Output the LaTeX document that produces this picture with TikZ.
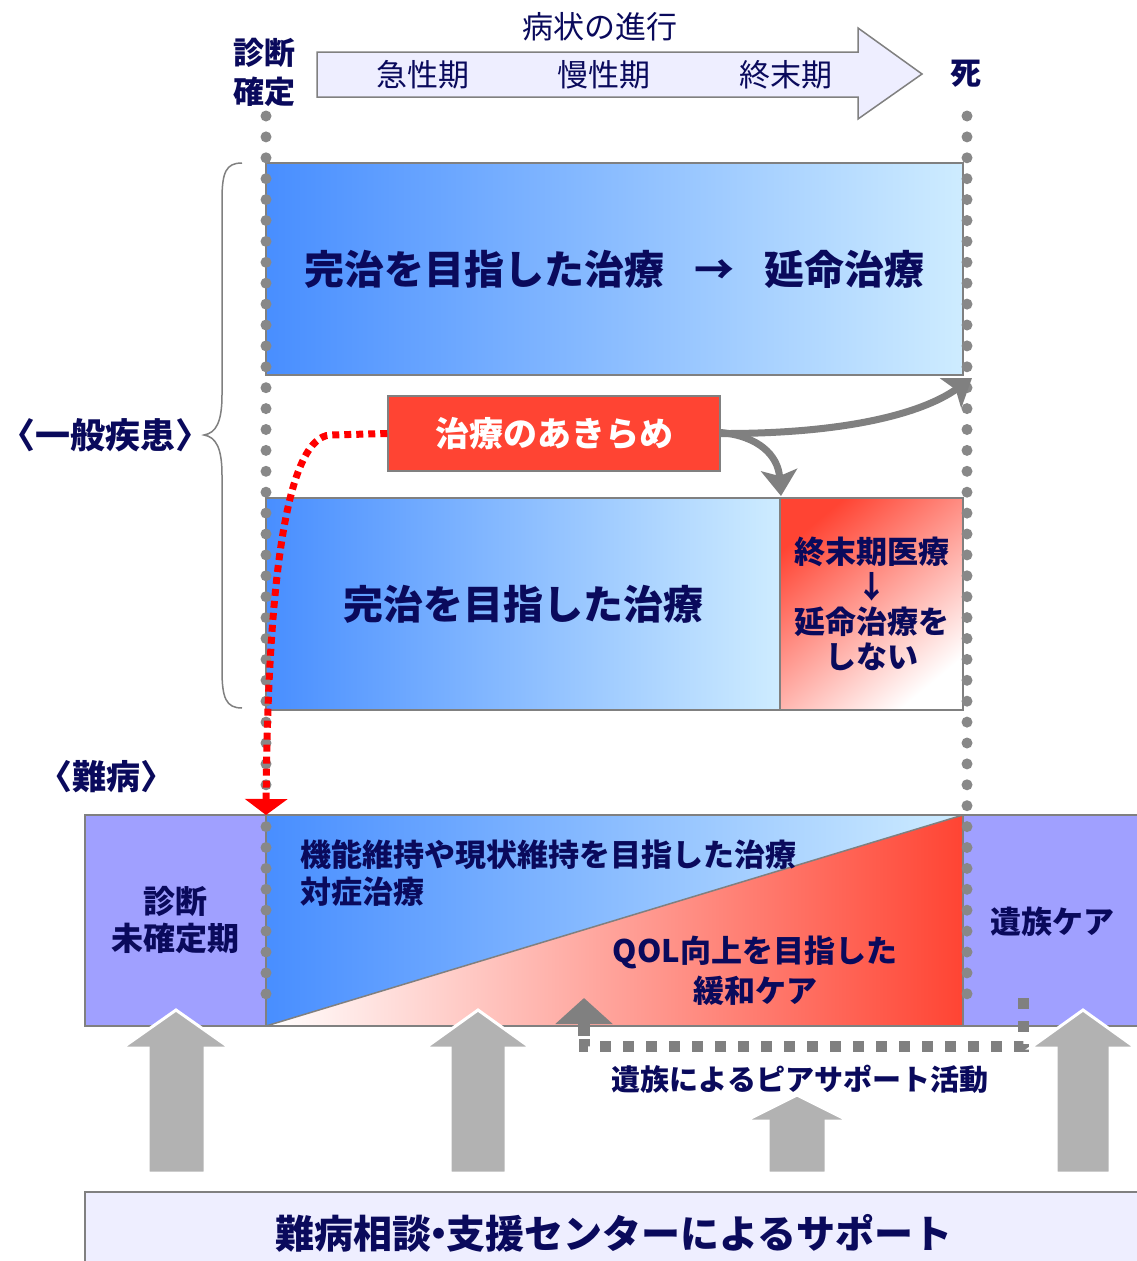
\documentclass[tikz,border=0pt]{standalone}
\usepackage{fontspec}
\setmainfont{Noto Sans CJK JP}
\usetikzlibrary{arrows.meta}
\definecolor{navy}{RGB}{10,10,92}
\definecolor{blueL}{RGB}{72,142,255}
\definecolor{blueR}{RGB}{206,236,255}
\definecolor{redC}{RGB}{255,68,51}
\definecolor{purpleC}{RGB}{160,160,255}
\definecolor{lavC}{RGB}{238,238,255}
\definecolor{lineC}{RGB}{128,128,128}
\definecolor{dotC}{RGB}{136,136,136}
\definecolor{arrC}{RGB}{178,178,178}
\newcommand{\fs}[1]{\fontsize{#1}{#1}\selectfont}
\begin{document}
\begin{tikzpicture}[x=1pt,y=-1pt,
  jt/.style={text=navy, inner sep=0pt, outer sep=0pt, align=center},
  panel/.style={draw=lineC, line width=1.5pt, inner sep=0pt, outer sep=0pt, anchor=north west},
  dotline/.style={draw=dotC, line width=11pt, line cap=round, dash pattern=on 0pt off 20.9pt},
  reddots/.style={draw=red, line width=7pt, dash pattern=on 7pt off 5pt},
  grayconn/.style={draw=lineC, line width=7pt, -{Stealth[length=26pt,width=36pt,inset=6pt]}},
  graydash/.style={draw=lineC, line width=11pt, dash pattern=on 11pt off 12pt},
  bigarrow/.style={fill=arrC, draw=white, line width=3pt, line join=miter}]
\useasboundingbox (0,0) rectangle (1136,1261);
\fill[white] (0,0) rectangle (1136,1261);

% ---- top progression arrow ----
\draw[fill=lavC, draw=lineC, line width=1.5pt]
  (317,52) -- (858,52) -- (858,28) -- (922,74) -- (858,119) -- (858,97) -- (317,97) -- cycle;
\node[jt, font=\fs{31}] (prog) at (600,27) {病状の進行};
\node[jt, font=\fs{31}] (p1) at (423,75) {急性期};
\node[jt, font=\fs{31}] (p2) at (604,75) {慢性期};
\node[jt, font=\fs{31}] (p3) at (786,75) {終末期};
\node[jt, font=\bfseries\fs{31}, align=center] (diag) at (264,72) {診断\\[8pt]確定};
\node[jt, font=\bfseries\fs{31}] (death) at (966,74) {死};

% ---- general disease panels ----
\node[panel, left color=blueL, right color=blueR, minimum width=697pt, minimum height=212pt,
      jt, font=\bfseries\fs{40}] (b1) at (266,163) {完治を目指した治療\hspace{30pt}→\hspace{30pt}延命治療};
\node[panel, left color=blueL, right color=blueR, minimum width=514pt, minimum height=212pt,
      jt, font=\bfseries\fs{40}] (b2) at (266,498) {完治を目指した治療};
\node[panel, top color=redC, bottom color=white, shading angle=40, minimum width=183pt, minimum height=212pt,
      jt, font=\bfseries\fs{31}] (b3) at (780,498) {終末期医療\\[4pt]↓\\[4pt]延命治療を\\[4pt]しない};

% brace
\draw[lineC, line width=1.5pt]
  (242,163) .. controls (226,163) and (222,172) .. (222,200) -- (222,395)
  .. controls (222,422) and (216,433) .. (204,435)
  .. controls (216,437) and (222,448) .. (222,475) -- (222,670)
  .. controls (222,698) and (226,708) .. (242,708);
\node[jt, font=\bfseries\fs{35}] (gen) at (106,435) {〈一般疾患〉};

% ---- intractable disease band ----
\node[jt, font=\bfseries\fs{34}] (nan) at (106,777) {〈難病〉};
\node[panel, fill=purpleC, minimum width=181pt, minimum height=211pt,
      jt, font=\bfseries\fs{32}] (undet) at (85,815) {診断\\[5pt]未確定期};
\node[panel, fill=purpleC, minimum width=180pt, minimum height=211pt] (grief) at (963,815) {};
\node[jt, font=\bfseries\fs{31}] (griefT) at (1052,922) {遺族ケア};
\coordinate (m0) at (266,815);
\coordinate (m1) at (963,815);
\coordinate (m2) at (963,1026);
\coordinate (m3) at (266,1026);
\shade[left color=blueL, right color=blueR] (m0) -- (m1) -- (m3) -- cycle;
\shade[left color=white, right color=redC] (m3) -- (m1) -- (m2) -- cycle;
\draw[lineC, line width=1.5pt] (m0) rectangle (m2);
\draw[lineC, line width=1.5pt] (m3) -- (m1);
\node[jt, font=\bfseries\fs{31}, align=left, anchor=west] (func) at (300,873)
  {機能維持や現状維持を目指した治療\\[6pt]対症治療};
\node[jt, font=\bfseries\fs{31}] (qol) at (755,971) {QOL向上を目指した\\[6pt]緩和ケア};

% ---- dotted time lines ----
\coordinate (L0) at (266,116);
\coordinate (L1) at (266,1012);
\coordinate (R0) at (967,116);
\coordinate (R1) at (967,1012);
\draw[dotline] (L0) -- (L1);
\draw[dotline] (R0) -- (R1);

% ---- giving up treatment ----
\node[draw=lineC, line width=1.5pt, fill=redC, text=white, font=\bfseries\fs{34},
      minimum width=332pt, minimum height=75pt, inner sep=0pt] (giveup) at (554,433.5) {治療のあきらめ};
\coordinate (t1) at (972,378);
\coordinate (t2) at (781,496);
\draw[grayconn] (giveup.east) .. controls (840,434) and (920,415) .. (t1);
\draw[grayconn] ([yshift=1pt]giveup.east) .. controls (758,436) and (778,455) .. (t2);
\coordinate (rt) at (266,815);
\draw[reddots, -{Triangle[length=16pt,width=42pt]}]
  (giveup.west) -- (330,435) .. controls (290,438) and (268,560) .. (rt);

% ---- peer support ----
\coordinate (ps0) at (1023,998);
\coordinate (ps1) at (584,1046);
\draw[graydash] (ps0) |- (ps1) -- (584,1036);
\draw[lineC, line width=12pt, -{Triangle[length=26pt,width=56pt]}] (584,1036) -- (584,998);
\node[jt, font=\bfseries\fs{29}] (peer) at (800,1079) {遺族によるピアサポート活動};

% ---- big support arrows ----
\draw[bigarrow] (148,1173) -- (148,1048) -- (122,1048) -- (176,1010) -- (230,1048) -- (205,1048) -- (205,1173) -- cycle;
\draw[bigarrow] (450,1173) -- (450,1048) -- (425,1048) -- (478,1010) -- (531,1048) -- (506,1048) -- (506,1173) -- cycle;
\draw[bigarrow] (768,1173) -- (768,1121) -- (745,1121) -- (797,1095) -- (849,1121) -- (826,1121) -- (826,1173) -- cycle;
\draw[bigarrow] (1056,1173) -- (1056,1048) -- (1030,1048) -- (1083,1010) -- (1136,1048) -- (1110,1048) -- (1110,1173) -- cycle;

% ---- support center ----
\node[panel, fill=lavC, minimum width=1060pt, minimum height=80pt] (center) at (85,1192) {};
\node[jt, font=\bfseries\fs{39}] (centerT) at (614,1233) {難病相談\hspace{-12pt}・\hspace{-12pt}支援センターによるサポート};
\end{tikzpicture}
\end{document}
